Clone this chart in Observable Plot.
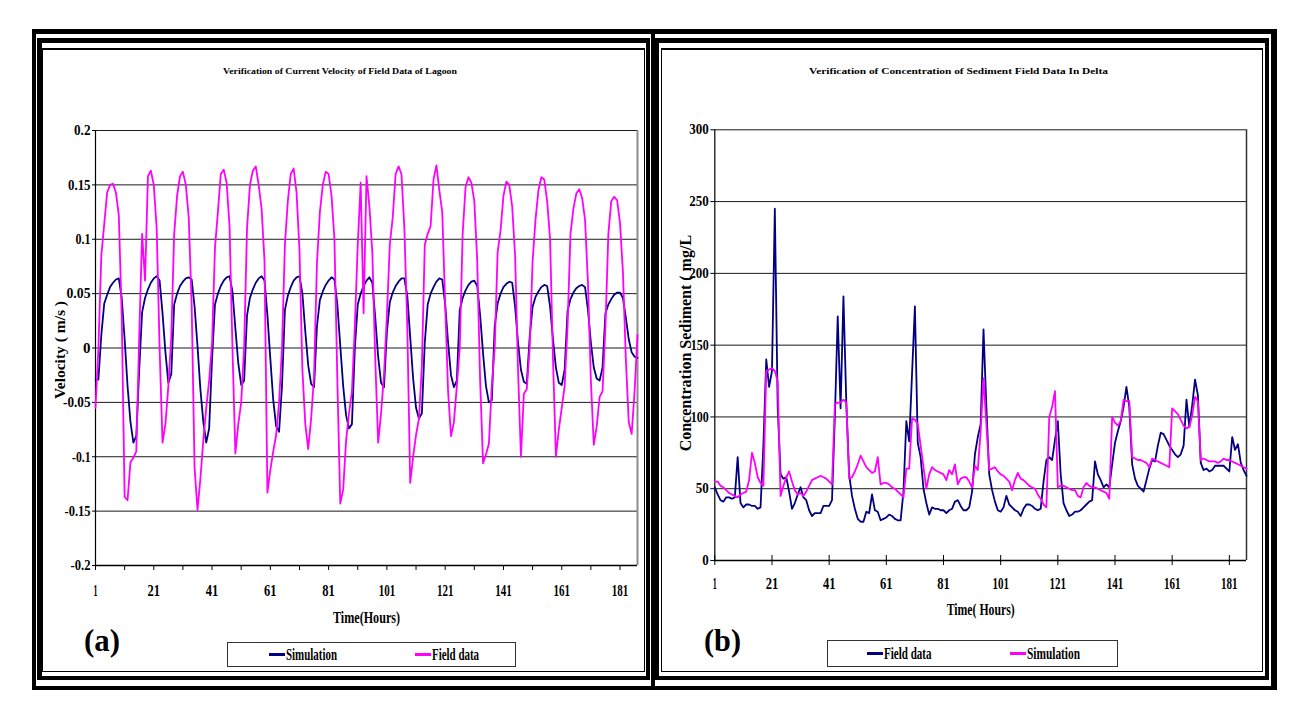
<!DOCTYPE html>
<html>
<head>
<meta charset="utf-8">
<script src="https://cdn.jsdelivr.net/npm/d3@7"></script>
<script src="https://cdn.jsdelivr.net/npm/@observablehq/plot@0.6"></script>
<style>
  html, body { margin: 0; padding: 0; background: #fff; }
  #page { position: relative; width: 1295px; height: 711px; overflow: hidden;
          font-family: "Liberation Serif", "Times New Roman", serif; font-weight: bold; color: #000; }
  .ring { position: absolute; box-sizing: border-box; border: 0 solid #000; }
  .abs { position: absolute; white-space: nowrap; }
  .fit { display: inline-block; transform-origin: 0 50%; white-space: nowrap; }
  .legend { position: absolute; box-sizing: border-box; border: 1px solid #333; background: #fff; }
  .swatch { position: absolute; height: 3px; }
  .chart { position: absolute; }
</style>
</head>
<body>
<div id="page"></div>
<script>
// ---- data ---------------------------------------------------------------
const hours = d3.range(1, 188);                       // hourly steps 1..187
const hourLabels = [1, 21, 41, 61, 81, 101, 121, 141, 161, 181];
const hourMinorTicks = [1, 11, 21, 31, 41, 51, 61, 71, 81, 91, 101, 111, 121, 131, 141, 151, 161, 171, 181];
const velocityTicks = [-0.2, -0.15, -0.1, -0.05, 0, 0.05, 0.1, 0.15, 0.2];
const sedimentTicks = [0, 50, 100, 150, 200, 250, 300];

// (a) current velocity, m/s
const velocitySimulation = [
  -0.029,-0.029,0.012,0.041,0.049,0.056,0.060,0.063,0.064,0.046,
  0.008,-0.035,-0.068,-0.087,-0.081,-0.020,0.033,0.046,0.054,0.060,
  0.064,0.066,0.062,0.032,-0.004,-0.032,-0.024,0.040,0.050,0.057,
  0.061,0.064,0.065,0.063,0.038,0.002,-0.038,-0.068,-0.087,-0.074,
  -0.010,0.040,0.050,0.057,0.062,0.065,0.066,0.052,0.018,-0.014,
  -0.034,-0.030,0.030,0.046,0.054,0.060,0.064,0.066,0.062,0.030,
  -0.010,-0.048,-0.072,-0.077,-0.035,0.035,0.048,0.056,0.062,0.065,
  0.066,0.050,0.015,-0.016,-0.033,-0.036,0.020,0.044,0.052,0.058,
  0.062,0.065,0.063,0.040,0.002,-0.035,-0.062,-0.074,-0.070,0.000,
  0.040,0.050,0.057,0.062,0.065,0.060,0.028,-0.008,-0.032,-0.036,
  0.015,0.042,0.051,0.057,0.061,0.064,0.064,0.048,0.010,-0.028,
  -0.055,-0.065,-0.060,0.005,0.040,0.050,0.056,0.061,0.064,0.063,
  0.040,0.005,-0.025,-0.036,-0.030,0.035,0.046,0.053,0.058,0.061,
  0.062,0.057,0.030,-0.005,-0.035,-0.050,-0.048,0.020,0.041,0.050,
  0.056,0.059,0.061,0.060,0.038,0.005,-0.020,-0.031,-0.033,0.010,
  0.038,0.047,0.052,0.056,0.058,0.057,0.038,0.008,-0.018,-0.032,
  -0.034,-0.020,0.034,0.045,0.051,0.055,0.057,0.058,0.056,0.035,
  0.005,-0.018,-0.028,-0.030,-0.018,0.032,0.040,0.045,0.049,0.051,
  0.051,0.046,0.028,0.008,-0.004,-0.008,-0.009
];
const velocityField = [
  -0.055,0.000,0.085,0.114,0.143,0.150,0.151,0.143,0.122,0.030,
  -0.137,-0.140,-0.105,-0.101,-0.095,0.010,0.105,0.062,0.158,0.163,
  0.150,0.110,0.000,-0.087,-0.070,-0.035,0.010,0.105,0.140,0.158,
  0.162,0.150,0.120,0.040,-0.110,-0.149,-0.120,-0.085,-0.055,-0.030,
  0.005,0.092,0.125,0.160,0.164,0.152,0.112,0.000,-0.097,-0.070,
  -0.050,0.000,0.110,0.150,0.163,0.167,0.150,0.128,0.080,-0.133,
  -0.112,-0.095,-0.080,-0.050,0.000,0.095,0.135,0.160,0.165,0.143,
  0.090,-0.020,-0.070,-0.093,-0.065,-0.026,0.078,0.125,0.150,0.162,
  0.160,0.140,0.100,-0.030,-0.143,-0.130,-0.085,-0.060,-0.040,0.020,
  0.095,0.152,0.032,0.158,0.130,0.088,-0.010,-0.087,-0.060,-0.025,
  0.030,0.095,0.120,0.160,0.167,0.160,0.110,0.020,-0.124,-0.100,
  -0.080,-0.065,-0.017,0.095,0.105,0.112,0.155,0.168,0.145,0.125,
  0.040,-0.040,-0.081,-0.068,-0.035,0.000,0.105,0.148,0.157,0.152,
  0.135,0.080,-0.030,-0.106,-0.098,-0.088,-0.035,0.000,0.088,0.108,
  0.140,0.153,0.150,0.130,0.085,-0.020,-0.100,-0.042,-0.038,0.000,
  0.080,0.118,0.145,0.157,0.155,0.135,0.100,-0.010,-0.100,-0.075,
  -0.055,-0.035,0.020,0.105,0.128,0.142,0.146,0.138,0.118,0.060,
  -0.030,-0.089,-0.072,-0.045,-0.040,0.020,0.105,0.135,0.139,0.136,
  0.115,0.070,-0.010,-0.068,-0.079,-0.040,0.012
];

// (b) suspended sediment concentration, mg/L
const sedimentField = [
  51,46,42,41,44,44,43,44,72,40,
  37,39,39,38,38,36,37,80,140,121,
  132,245,107,60,57,58,48,36,40,46,
  51,44,42,35,31,33,33,33,38,38,
  38,42,100,170,106,184,110,60,45,36,
  29,27,27,34,33,46,35,34,28,29,
  30,32,31,29,28,28,48,97,83,130,
  177,82,72,50,40,32,37,36,36,35,
  35,33,35,36,41,42,38,35,35,37,
  48,74,86,95,161,107,60,49,41,35,
  34,37,45,39,37,35,34,31,36,39,
  39,38,36,35,36,55,70,72,70,84,
  97,60,40,35,31,32,34,34,35,37,
  39,41,42,69,60,56,51,53,51,67,
  82,90,97,107,121,107,67,57,52,50,
  48,56,64,70,69,80,89,88,84,80,
  77,74,72,74,80,112,93,108,126,115,
  68,63,64,62,63,66,66,66,66,64,
  62,86,77,81,68,63,59
];
const sedimentSimulation = [
  55,55,52,51,49,47,46,45,44,46,
  47,48,56,75,68,58,54,52,132,133,
  134,132,125,45,52,58,62,55,49,46,
  47,45,48,52,56,57,58,59,58,57,
  55,53,109,110,110,112,110,57,58,62,
  67,73,69,65,63,61,62,72,53,54,
  54,53,51,50,48,46,44,64,64,99,
  98,95,80,65,50,60,65,63,62,61,
  60,56,63,60,67,53,57,58,58,55,
  51,66,63,90,127,95,63,64,65,62,
  60,59,57,55,49,56,61,57,56,54,
  52,51,50,46,43,39,37,100,107,118,
  51,52,52,51,50,49,49,45,44,51,
  54,52,51,51,50,49,48,47,43,100,
  96,94,97,112,111,111,72,71,70,70,
  69,68,65,71,70,69,68,67,66,65,
  106,104,102,98,94,92,93,101,114,111,
  70,71,70,69,69,69,68,69,71,70,
  70,69,68,67,66,65,64
];

// ---- styling ------------------------------------------------------------
const FONT = '"Liberation Serif", "Times New Roman", serif';
const NAVY = "#000080";
const MAGENTA = "#ff00ff";

const page = document.getElementById("page");

// condensed digit widths used to squeeze the tick labels
function digitsWidth(s, digit, one) {
  let w = 0;
  for (const c of s) w += c === "1" ? one : c === "." ? 1.5 : c === "-" ? 3.5 : digit;
  return w;
}

// compress svg texts to given lengths; the anchor is re-applied by hand
// so that the squeezed text keeps its start / middle / end alignment
function squeeze(svg, widthOf, sizeOf) {
  svg.querySelectorAll("text").forEach(t => {
    const s = t.textContent;
    if (!s) return;
    const size = sizeOf(s);
    if (size) t.setAttribute("font-size", size);
    const w = widthOf(s);
    if (!w) return;
    const anchor = getComputedStyle(t).textAnchor;
    const shift = anchor === "middle" ? -w / 2 : anchor === "end" ? -w : 0;
    t.setAttribute("text-anchor", "start");
    t.setAttribute("dx", shift);
    t.setAttribute("textLength", w);
    t.setAttribute("lengthAdjust", "spacingAndGlyphs");
  });
}

function ring(l, t, r, b, bt, br, bb, bl) {
  const d = document.createElement("div");
  d.className = "ring";
  Object.assign(d.style, {
    left: l + "px", top: t + "px", width: (r - l) + "px", height: (b - t) + "px",
    borderTopWidth: bt + "px", borderRightWidth: br + "px",
    borderBottomWidth: bb + "px", borderLeftWidth: bl + "px"
  });
  page.appendChild(d);
}

// html text squeezed horizontally to a width; cy is the vertical centre
function fitText(parent, str, {left, cy, size, width, weight = "bold"}) {
  const d = document.createElement("div");
  d.className = "abs";
  Object.assign(d.style, {left: left + "px", top: (cy - size / 2) + "px",
    fontSize: size + "px", lineHeight: size + "px", fontWeight: weight});
  const s = document.createElement("span");
  s.className = "fit";
  s.textContent = str;
  d.appendChild(s);
  parent.appendChild(d);
  const natural = s.getBoundingClientRect().width;
  s.style.transform = `scaleX(${width / natural})`;
  return d;
}

function legend(box, items) {
  const d = document.createElement("div");
  d.className = "legend";
  Object.assign(d.style, {left: box.left + "px", top: box.top + "px",
    width: box.width + "px", height: box.height + "px"});
  page.appendChild(d);
  const cy = box.height / 2 - 1;
  for (const it of items) {
    const sw = document.createElement("div");
    sw.className = "swatch";
    Object.assign(sw.style, {left: (it.swatch - box.left - 1) + "px", top: (cy - 1.5) + "px",
      width: "16px", background: it.color});
    d.appendChild(sw);
    fitText(d, it.label, {left: it.swatch - box.left + 16, cy: cy + 0.5, size: 16, width: it.width});
  }
}

// ---- panel frames ---------------------------------------------------------
ring(31.5, 29, 655, 690, 5, 4, 4, 4);
ring(37, 38, 650, 680, 5, 4, 4, 5);
ring(42, 48, 644.5, 672, 2, 1.5, 1.5, 1.5);
ring(652, 29, 1277, 690, 5, 6, 4, 3);
ring(655, 38, 1269, 680, 5, 4.5, 4, 4);
ring(661, 48, 1263, 672, 2, 1.5, 1.5, 1.5);

const chartStyle = {fontFamily: FONT, fontWeight: "bold", fontSize: "16px", color: "#000",
  background: "transparent", overflow: "visible"};

// ---- (a) velocity ---------------------------------------------------------
const velocityRows = hours.map((h, k) => ({hour: h, simulation: velocitySimulation[k], field: velocityField[k]}));
const velocityChart = Plot.plot({
  width: 598, height: 522,
  marginLeft: 49, marginRight: 7, marginTop: 42, marginBottom: 45,
  x: {domain: [1, 187]},
  y: {domain: [-0.2, 0.2]},
  style: chartStyle,
  marks: [
    Plot.ruleY(velocityTicks, {stroke: "#1a1a1a", strokeWidth: 1}),
    Plot.ruleX([187], {stroke: "#8c8c8c", strokeWidth: 2}),
    Plot.axisY(velocityTicks, {tickSize: 3, tickPadding: 2, tickFormat: d => String(d), label: null}),
    Plot.axisX(hourMinorTicks, {tickSize: 5, tickFormat: () => "", label: null}),
    Plot.axisX(hourLabels, {tickSize: 0, tickPadding: 19, tickFormat: d => String(d), label: null}),
    Plot.ruleX([1], {stroke: "#000", strokeWidth: 1.2}),
    Plot.ruleY([-0.2], {stroke: "#000", strokeWidth: 1.5}),
    Plot.lineY(velocityRows, {x: "hour", y: "simulation", stroke: NAVY, strokeWidth: 1.8}),
    Plot.lineY(velocityRows, {x: "hour", y: "field", stroke: MAGENTA, strokeWidth: 1.8}),
    Plot.text(["Velocity ( m/s )"], {text: d => d, frameAnchor: "left", textAnchor: "middle", rotate: -90, dx: -35, dy: 2, fontSize: 15.5, fontWeight: "bold"}),
    Plot.text(["Time(Hours)"], {text: d => d, frameAnchor: "bottom", dy: 57, fontSize: 16, fontWeight: "bold"})
  ]
});
velocityChart.classList.add("chart");
Object.assign(velocityChart.style, {left: "46px", top: "88px"});
page.appendChild(velocityChart);
squeeze(velocityChart,
  s => s === "Velocity ( m/s )" ? 0 : s === "Time(Hours)" ? 67
     : hourLabels.includes(+s) ? digitsWidth(s, 8.5, 4) : digitsWidth(s, 7.5, 6),
  s => s === "Velocity ( m/s )" ? 15.5 : s === "Time(Hours)" ? 16 : hourLabels.includes(+s) ? 16 : 15);

// ---- (b) sediment ---------------------------------------------------------
const sedimentRows = hours.map((h, k) => ({hour: h, field: sedimentField[k], simulation: sedimentSimulation[k]}));
const sedimentChart = Plot.plot({
  width: 596, height: 522,
  marginLeft: 50.3, marginRight: 14, marginTop: 41.3, marginBottom: 50,
  x: {domain: [1, 187]},
  y: {domain: [0, 300]},
  style: chartStyle,
  marks: [
    Plot.ruleY(sedimentTicks, {stroke: "#1a1a1a", strokeWidth: 1}),
    Plot.ruleX([187], {stroke: "#333", strokeWidth: 1.5}),
    Plot.axisY(sedimentTicks, {tickSize: 4, tickPadding: 2, tickFormat: d => String(d), label: null}),
    Plot.axisX(hourLabels, {tickSize: 10, dy: -5, tickFormat: () => "", label: null}),
    Plot.axisX(hourLabels, {tickSize: 0, tickPadding: 17, tickFormat: d => String(d), label: null}),
    Plot.ruleX([1], {stroke: "#000", strokeWidth: 1.2}),
    Plot.ruleY([0], {stroke: "#000", strokeWidth: 1.5}),
    Plot.lineY(sedimentRows, {x: "hour", y: "field", stroke: NAVY, strokeWidth: 1.8}),
    Plot.lineY(sedimentRows, {x: "hour", y: "simulation", stroke: MAGENTA, strokeWidth: 1.8}),
    Plot.text(["Concentration Sediment ( mg/L"], {text: d => d, frameAnchor: "left", textAnchor: "middle", rotate: -90, dx: -29, dy: -2, fontSize: 16, fontWeight: "bold"}),
    Plot.text(["Time( Hours)"], {text: d => d, frameAnchor: "bottom", dy: 54, fontSize: 16, fontWeight: "bold"})
  ]
});
sedimentChart.classList.add("chart");
Object.assign(sedimentChart.style, {left: "664px", top: "88px"});
page.appendChild(sedimentChart);
squeeze(sedimentChart,
  s => s === "Concentration Sediment ( mg/L" ? 0 : s === "Time( Hours)" ? 68
     : hourLabels.includes(+s) ? digitsWidth(s, 8.5, 4) : digitsWidth(s, 6.5, 5),
  s => s === "Concentration Sediment ( mg/L" ? 16 : s === "Time( Hours)" ? 16 : hourLabels.includes(+s) ? 16 : 14.5);

// ---- titles, panel letters, legends ---------------------------------------
fitText(page, "Verification of Current Velocity of Field Data of Lagoon", {left: 223, cy: 71.5, size: 9, width: 234});
fitText(page, "Verification of Concentration of Sediment Field Data In Delta", {left: 809, cy: 71.5, size: 9, width: 299});

fitText(page, "(a)", {left: 84, cy: 640, size: 32, width: 36});
fitText(page, "(b)", {left: 703.5, cy: 640, size: 32, width: 37});

legend({left: 227, top: 642, width: 289, height: 25}, [
  {swatch: 269, color: NAVY, label: "Simulation", width: 51},
  {swatch: 414.6, color: MAGENTA, label: "Field data", width: 47}
]);
legend({left: 827, top: 640, width: 291, height: 27}, [
  {swatch: 867, color: NAVY, label: "Field data", width: 47.5},
  {swatch: 1010, color: MAGENTA, label: "Simulation", width: 53}
]);
</script>
</body>
</html>
